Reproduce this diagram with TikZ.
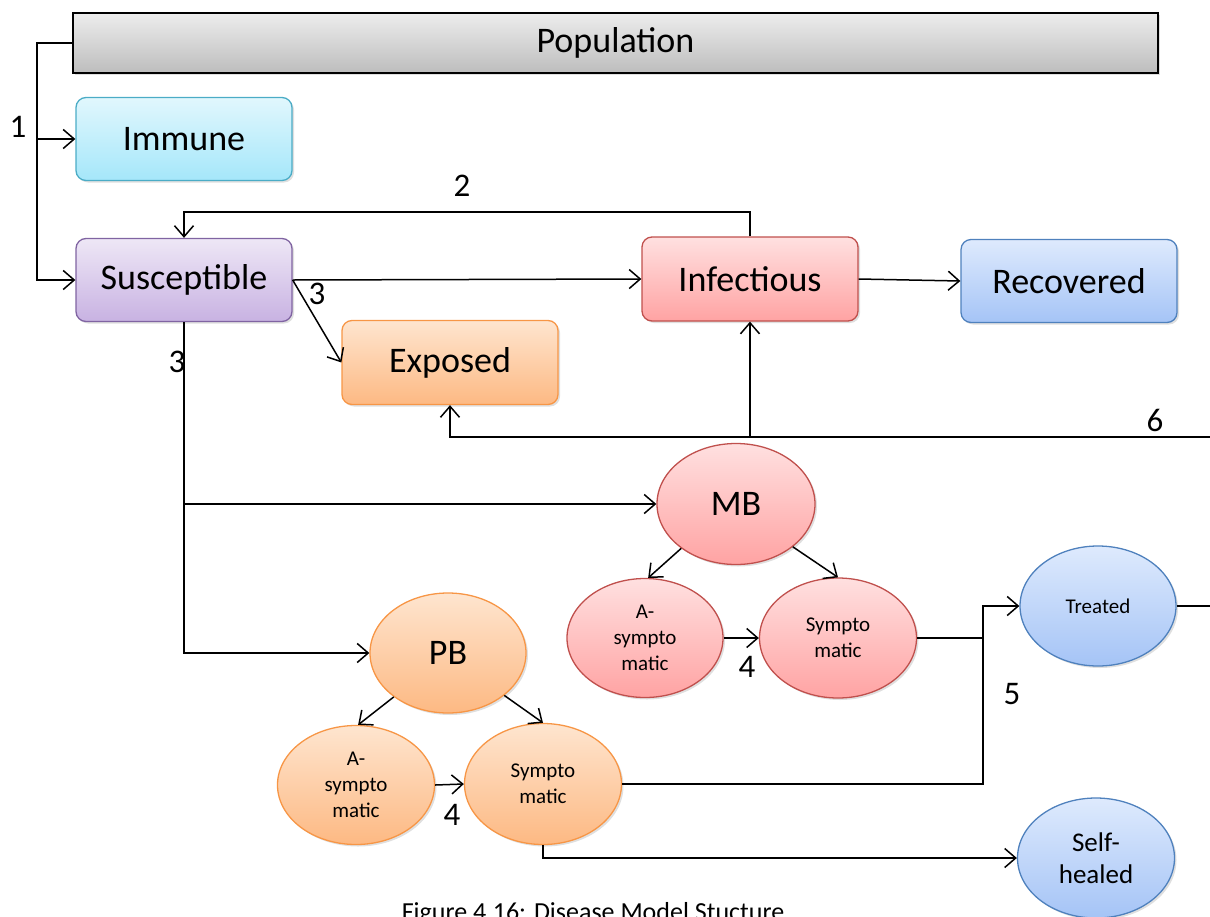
\documentclass[tikz,border=0pt]{standalone}
\usepackage{fontspec}
\setmainfont{Carlito}
\usetikzlibrary{shapes.geometric,arrows.meta,shadows}
\tikzset{
  arr/.style={-{Straight Barb[length=11pt,width=19pt,line width=1.5pt]}},
  conn/.style={line width=1.5pt,black},
  sh/.style={drop shadow={opacity=0.25,shadow xshift=2pt,shadow yshift=-2pt}},
  boxs/.style={rectangle,rounded corners=10pt,draw,line width=1.3pt,minimum width=216pt,minimum height=83pt,inner sep=0pt,font=\fontsize{36}{40}\selectfont,sh},
  ell/.style={ellipse,draw,line width=1.3pt,minimum width=157pt,minimum height=120pt,inner sep=0pt,align=center,sh},
  big/.style={font=\fontsize{36}{40}\selectfont},
  small/.style={font=\fontsize{21}{26}\selectfont},
  mid/.style={font=\fontsize{27}{32}\selectfont},
  lab/.style={font=\fontsize{33}{36}\selectfont,inner sep=0pt},
  cyanb/.style={top color=cyanT,bottom color=cyanB,draw=cyanD},
  purpb/.style={top color=purpT,bottom color=purpB,draw=purpD},
  redb/.style={top color=redT,bottom color=redB,draw=redD},
  blueb/.style={top color=blueT,bottom color=blueB,draw=blueD},
  orab/.style={top color=oraT,bottom color=oraB,draw=oraD},
}
\definecolor{cyanT}{HTML}{E1F7FD}\definecolor{cyanB}{HTML}{A5E7FA}\definecolor{cyanD}{HTML}{4BACC6}
\definecolor{purpT}{HTML}{EEE7F6}\definecolor{purpB}{HTML}{C8B2E2}\definecolor{purpD}{HTML}{8064A2}
\definecolor{redT}{HTML}{FFE0E0}\definecolor{redB}{HTML}{FFA3A3}\definecolor{redD}{HTML}{C0504D}
\definecolor{blueT}{HTML}{DEEAFD}\definecolor{blueB}{HTML}{A5C4F6}\definecolor{blueD}{HTML}{4F81BD}
\definecolor{oraT}{HTML}{FEE5CF}\definecolor{oraB}{HTML}{FDB983}\definecolor{oraD}{HTML}{F79646}
\definecolor{grayT}{HTML}{EDEDED}\definecolor{grayB}{HTML}{BDBDBD}
\begin{document}
\begin{tikzpicture}[x=1pt,y=-1pt]
\useasboundingbox (0,0) rectangle (1210,916);
% boxes
\node[rectangle,draw=black,line width=2.5pt,top color=grayT,bottom color=grayB,minimum width=1085pt,minimum height=60pt,inner sep=0pt,font=\fontsize{36}{40}\selectfont,sh] (pop) at (615.5,43) {Population};
\node[boxs,cyanb] (imm) at (184,139) {Immune};
\node[boxs,purpb] (sus) at (184,280) {Susceptible};
\node[boxs,redb,minimum height=84pt] (inf) at (750,279) {Infectious};
\node[boxs,blueb] (rec) at (1069,281) {Recovered};
\node[boxs,orab,minimum height=84pt] (exp) at (450,362.5) {Exposed};
% ellipses
\node[ell,redb,big,minimum height=121pt,minimum width=158pt] (mb) at (736,504) {MB};
\node[ell,redb,small,minimum height=119pt,minimum width=156pt] (mba) at (645,638) {A-\\sympto\\matic};
\node[ell,redb,small] (mbs) at (838,638) {Sympto\\matic};
\node[ell,blueb,small,minimum width=156pt] (trt) at (1098,606) {Treated};
\node[ell,orab,big,minimum width=156pt] (pb) at (448,653) {PB};
\node[ell,orab,small,minimum height=119pt] (pba) at (356,785) {A-\\sympto\\matic};
\node[ell,orab,small,minimum height=121pt] (pbs) at (543,784) {Sympto\\matic};
\node[ell,blueb,mid] (slf) at (1096,858) {Self-\\healed};
% coordinates
\coordinate (j1) at (37,43);
\coordinate (j2) at (750,212);
\coordinate (r6) at (1210,437);
\coordinate (r7) at (1210,606);
\coordinate (j5) at (983,638);
% connectors
\draw[conn,arr] (pop.west) -- (j1) |- (sus.west);
\draw[conn,arr] (j1 |- imm.west) -- (imm.west);
\draw[conn,arr] (inf.north) -- (j2) -| (sus.north);
\draw[conn,arr] (sus.east) -- (inf.west);
\draw[conn,arr] (sus.east) -- (exp.west);
\draw[conn,arr] (sus.south) |- (pb.west);
\draw[conn,arr] (sus.south |- mb.west) -- (mb.west);
\draw[conn,arr] (inf.east) -- (rec.west);
\draw[conn,arr] (r6) -| (exp.south);
\draw[conn,arr] (inf.south |- r6) -- (inf.south);
\draw[conn] (trt.east) -- (r7);
\draw[conn,arr] (mb.219) -- (mba.87);
\draw[conn,arr] (mb.323) -- (mbs.90);
\draw[conn,arr] (mba.east) -- (mbs.west);
\draw[conn,arr] (mbs.east) -- (j5) |- (trt.west);
\draw[conn] (pbs.east) -| (j5);
\draw[conn,arr] (pb.219) -- (pba.88);
\draw[conn,arr] (pb.323) -- (pbs.90);
\draw[conn,arr] (pba.east) -- (pbs.west);
\draw[conn,arr] (pbs.south) |- (slf.west);
% labels
\node[lab] (l1) at (18,127) {1};
\node[lab] (l2) at (462,186) {2};
\node[lab] (l3a) at (317,294) {3};
\node[lab] (l3b) at (177,362) {3};
\node[lab] (l6) at (1155,420) {6};
\node[lab] (l4a) at (747,667) {4};
\node[lab] (l4b) at (452,815) {4};
\node[lab] (l5) at (1012,694) {5};
\node[anchor=north,inner sep=0pt,font=\fontsize{26}{30}\selectfont] (cap) at (593,902) {Figure 4.16: Disease Model Stucture};
\end{tikzpicture}
\end{document}
